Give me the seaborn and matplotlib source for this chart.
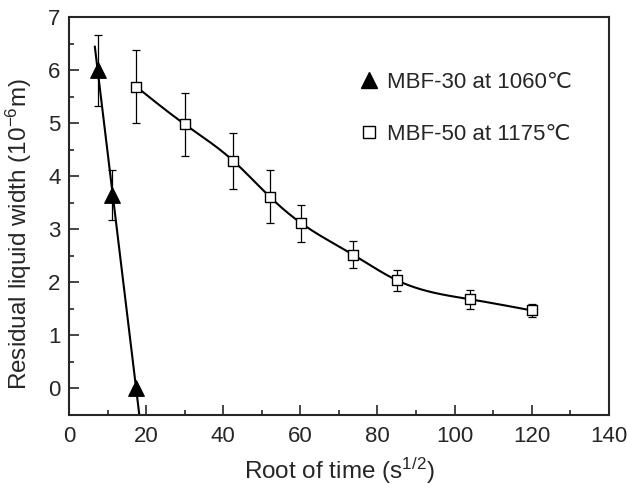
import numpy as np
import matplotlib.pyplot as plt
import matplotlib.lines as mlines
import matplotlib.ticker as mticker
import seaborn as sns

# ── data ────────────────────────────────────────────────────────────
mbf30_x = [7.6, 11.1, 17.5]
mbf30_y = [6.0, 3.65, 0.0]
mbf30_err = [0.67, 0.47, 0.0]

mbf50_x = [17.4, 30.0, 42.6, 52.1, 60.3, 73.7, 85.0, 104.0, 120.0]
mbf50_y = [5.69, 4.98, 4.29, 3.61, 3.11, 2.52, 2.04, 1.68, 1.47]
mbf50_err = [0.68, 0.59, 0.53, 0.50, 0.35, 0.25, 0.20, 0.18, 0.12]

labels = ["MBF-30 at 1060\u2103", "MBF-50 at 1175\u2103"]


def natural_spline(x, y, xn):
    """Natural cubic spline through (x, y), evaluated at xn."""
    x = np.asarray(x, float)
    y = np.asarray(y, float)
    n = len(x)
    h = np.diff(x)
    A = np.zeros((n, n))
    r = np.zeros(n)
    A[0, 0] = A[-1, -1] = 1
    for i in range(1, n - 1):
        A[i, i - 1] = h[i - 1]
        A[i, i] = 2 * (h[i - 1] + h[i])
        A[i, i + 1] = h[i]
        r[i] = 3 * ((y[i + 1] - y[i]) / h[i] - (y[i] - y[i - 1]) / h[i - 1])
    c = np.linalg.solve(A, r)
    b = (y[1:] - y[:-1]) / h - h * (2 * c[:-1] + c[1:]) / 3
    d = (c[1:] - c[:-1]) / (3 * h)
    idx = np.clip(np.searchsorted(x, xn) - 1, 0, n - 2)
    dx = xn - x[idx]
    return y[idx] + b[idx] * dx + c[idx] * dx ** 2 + d[idx] * dx ** 3


# ── style ───────────────────────────────────────────────────────────
sns.set_style("ticks")
plt.rcParams["font.family"] = ["Liberation Sans", "DejaVu Sans"]
plt.rcParams["mathtext.fontset"] = "custom"
plt.rcParams["mathtext.rm"] = "Liberation Sans"
plt.rcParams["mathtext.it"] = "Liberation Sans:italic"

fig = plt.figure(figsize=(6.27, 4.87), dpi=100)
ax = fig.add_axes([0.110, 0.148, 0.861, 0.817])

# linear fit for MBF-30
k, b = np.polyfit(mbf30_x, mbf30_y, 1)
fx30 = np.linspace(6.7, 19, 50)
sns.lineplot(x=fx30, y=k * fx30 + b, ax=ax, color="black", lw=1.5)

# smooth curve for MBF-50
fx50 = np.linspace(mbf50_x[0], mbf50_x[-1], 300)
sns.lineplot(x=fx50, y=natural_spline(mbf50_x, mbf50_y, fx50), ax=ax,
             color="black", lw=1.5)

# error bars
for x, y, e in [(mbf30_x, mbf30_y, mbf30_err), (mbf50_x, mbf50_y, mbf50_err)]:
    ax.errorbar(x, y, yerr=e, fmt="none", ecolor="black",
                elinewidth=0.9, capsize=3, capthick=0.9)

# markers
sns.scatterplot(x=mbf30_x, y=mbf30_y, ax=ax, marker="^", s=125,
                color="black", edgecolor="black", zorder=5)
sns.scatterplot(x=mbf50_x, y=mbf50_y, ax=ax, marker="s", s=60,
                facecolor="white", edgecolor="black", linewidth=1.0, zorder=5)

ax.set_xlim(0, 140)
ax.set_ylim(-0.5, 7)
ax.xaxis.set_major_locator(mticker.MultipleLocator(20))
ax.xaxis.set_minor_locator(mticker.MultipleLocator(10))
ax.yaxis.set_major_locator(mticker.MultipleLocator(1))
ax.yaxis.set_minor_locator(mticker.MultipleLocator(0.5))
ax.tick_params(which="both", direction="in", width=1.2, labelsize=16,
               top=False, right=False)
ax.tick_params(which="major", length=7)
ax.tick_params(which="minor", length=3.5)
ax.tick_params(axis="x", pad=8)
ax.tick_params(axis="y", pad=6)
for s in ax.spines.values():
    s.set_linewidth(1.5)
    s.set_visible(True)

ax.set_xlabel("Root of time (s$^{1/2}$)", fontsize=17.5, labelpad=6)
ax.set_ylabel("Residual liquid width (10$^{-6}$m)", fontsize=17.5)
ax.yaxis.set_label_coords(-0.065, 0.455)

handles = [
    mlines.Line2D([], [], ls="none", marker="^", ms=11, color="black"),
    mlines.Line2D([], [], ls="none", marker="s", ms=8, mfc="white",
                  mec="black", mew=1.0),
]
ax.legend(handles, labels, loc="upper left", bbox_to_anchor=(0.494, 0.912),
          frameon=False, fontsize=16, labelspacing=1.4, handletextpad=0.2,
          handlelength=1.2)

fig.savefig("out.png", dpi=100)
plt.close(fig)
